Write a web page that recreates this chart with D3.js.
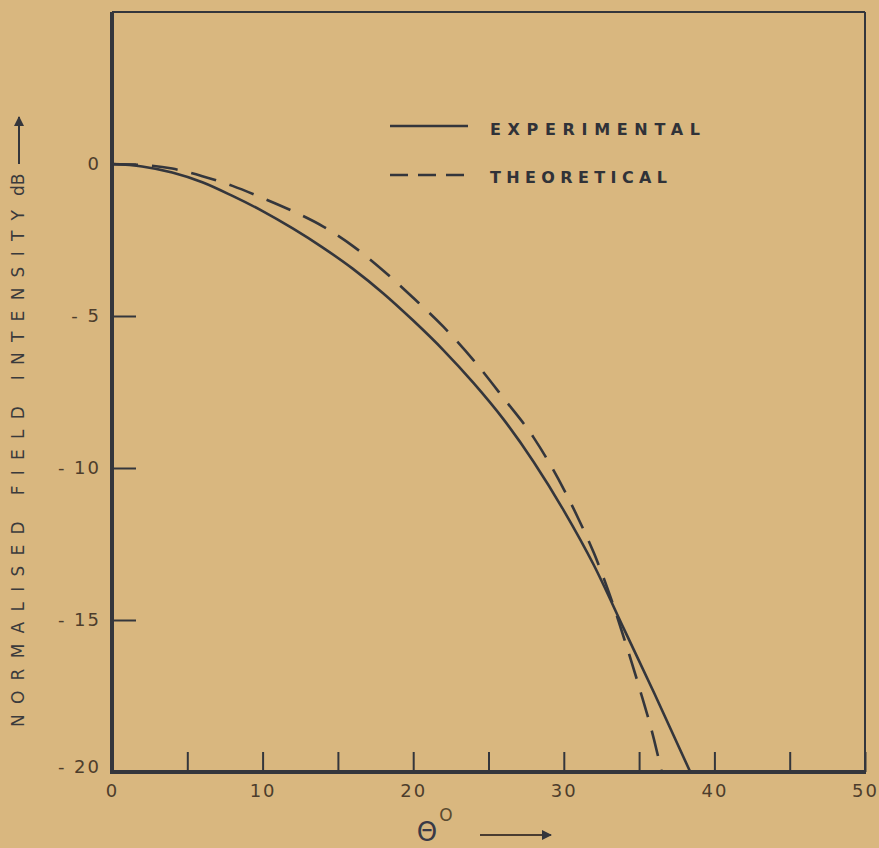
<!DOCTYPE html>
<meta charset="utf-8">
<style>
  body { margin: 0; background: #d9b77f; }
  svg { display: block; }
  .axis .domain { display: none; }
  .axis .tick line { stroke: #34363c; stroke-width: 2; }
  .axis .tick text {
    font-family: "DejaVu Sans", sans-serif;
    font-size: 18px;
    fill: #4d3d2c;
    letter-spacing: 2px;
  }
  .legend text {
    font-family: "DejaVu Sans", sans-serif;
    font-size: 16px;
    font-weight: bold;
    fill: #303238;
  }
  .curve { fill: none; stroke: #34363c; stroke-width: 2.6; }
</style>
<body>
<div id="chart"></div>

<script src="https://d3js.org/d3.v7.min.js"></script>
<script>

// measured curves (theta in degrees, field in dB)
const expTheta = [0, 2, 4, 6, 8, 10, 12, 14, 16, 18, 20, 22, 24, 26, 28, 30, 32, 34, 36, 38.4];
const expDb    = [0, -0.08, -0.28, -0.6, -1.05, -1.55, -2.12, -2.75, -3.45, -4.25, -5.15, -6.12, -7.2, -8.4, -9.8, -11.4, -13.2, -15.3, -17.4, -20];

const theoTheta = [0, 2, 4, 6, 8, 10, 12, 14, 16, 18, 20, 22, 24, 26, 28, 29, 30, 31, 32, 33, 34, 35, 36, 36.5];
const theoDb    = [0, -0.03, -0.15, -0.4, -0.72, -1.12, -1.55, -2.05, -2.7, -3.5, -4.4, -5.35, -6.45, -7.7, -9.0, -9.8, -10.7, -11.7, -12.8, -14.1, -15.6, -17.2, -18.95, -20];

const xTicks = [0, 5, 10, 15, 20, 25, 30, 35, 40, 45, 50];
const xTickLabels = ["0", "", "10", "", "20", "", "30", "", "40", "", "50"];
const yTicks = [0, -5, -10, -15, -20];
const yTickLabels = ["0", "- 5", "- 10", "- 15", "- 20"];
const seriesNames = ["EXPERIMENTAL", "THEORETICAL"];

const width = 879, height = 848;
const ink = "#34363c";

const svg = d3.select("#chart").append("svg")
    .attr("width", width)
    .attr("height", height);

svg.append("rect").attr("width", width).attr("height", height).attr("fill", "#d9b77f");

const x = d3.scaleLinear().domain([0, 50]).range([112, 865]);
const y = d3.scaleLinear().domain([-20, 5]).range([772, 12]);

// frame: heavy left/bottom axes, thin top/right
svg.append("line")
    .attr("x1", x(0)).attr("x2", x(50)).attr("y1", y(5)).attr("y2", y(5))
    .attr("stroke", ink).attr("stroke-width", 2);
svg.append("line")
    .attr("x1", x(50)).attr("x2", x(50)).attr("y1", y(5)).attr("y2", y(-20))
    .attr("stroke", ink).attr("stroke-width", 2);

// x axis, ticks pointing up
svg.append("g")
    .attr("class", "axis")
    .attr("transform", `translate(0,${y(-20)})`)
    .call(d3.axisBottom(x)
        .tickValues(xTicks)
        .tickSize(-20)
        .tickPadding(12)
        .tickFormat((d, i) => xTickLabels[i]));

// y axis, ticks pointing right
const yAxis = svg.append("g")
    .attr("class", "axis")
    .attr("transform", `translate(${x(0)},0)`)
    .call(d3.axisLeft(y)
        .tickValues(yTicks)
        .tickSize(-24)
        .tickPadding(11)
        .tickFormat((d, i) => yTickLabels[i]));
// bottom label sits a little above the corner
yAxis.selectAll(".tick text").filter(d => d === -20).attr("dy", "0.0em");

svg.append("line")
    .attr("x1", x(0)).attr("x2", x(0)).attr("y1", y(5)).attr("y2", y(-20) + 2)
    .attr("stroke", ink).attr("stroke-width", 4);
svg.append("line")
    .attr("x1", x(0) - 2).attr("x2", x(50) + 1).attr("y1", y(-20)).attr("y2", y(-20))
    .attr("stroke", ink).attr("stroke-width", 4);

// curves
const line = d3.line()
    .x(d => x(d[0]))
    .y(d => y(d[1]))
    .curve(d3.curveMonotoneX);

svg.append("path")
    .datum(expTheta.map((t, i) => [t, expDb[i]]))
    .attr("class", "curve")
    .attr("d", line);

svg.append("path")
    .datum(theoTheta.map((t, i) => [t, theoDb[i]]))
    .attr("class", "curve")
    .attr("stroke-width", 3)
    .attr("stroke-dasharray", "26,14")
    .attr("d", line);

// legend
const legend = svg.append("g").attr("class", "legend");
const legendRows = [
  { name: seriesNames[0], dash: null, ly: 126, ty: 135, len: 210 },
  { name: seriesNames[1], dash: "18,10", ly: 175, ty: 183, len: 177 }
];
legendRows.forEach(r => {
  legend.append("line")
      .attr("x1", 390).attr("x2", 468).attr("y1", r.ly).attr("y2", r.ly)
      .attr("stroke", ink).attr("stroke-width", 2.6)
      .attr("stroke-dasharray", r.dash);
  legend.append("text")
      .attr("x", 490).attr("y", r.ty)
      .attr("textLength", r.len)
      .attr("lengthAdjust", "spacing")
      .text(r.name);
});

// y title
svg.append("text")
    .attr("transform", "translate(24,727) rotate(-90)")
    .attr("font-family", "DejaVu Sans, sans-serif")
    .attr("font-size", 17)
    .attr("fill", "#3a3a3c")
    .attr("textLength", 517)
    .attr("lengthAdjust", "spacing")
    .text("NORMALISED  FIELD  INTENSITY");
svg.append("text")
    .attr("transform", "translate(24,196) rotate(-90)")
    .attr("font-family", "DejaVu Sans, sans-serif")
    .attr("font-size", 17)
    .attr("fill", "#3a3a3c")
    .text("dB");

svg.append("defs").append("marker")
    .attr("id", "arrow")
    .attr("viewBox", "0 0 10 10")
    .attr("refX", 9).attr("refY", 5)
    .attr("markerWidth", 7).attr("markerHeight", 5)
    .attr("orient", "auto")
  .append("path")
    .attr("d", "M0,0 L10,5 L0,10 z")
    .attr("fill", ink);

svg.append("line")
    .attr("x1", 19).attr("x2", 19).attr("y1", 164).attr("y2", 117)
    .attr("stroke", ink).attr("stroke-width", 2)
    .attr("marker-end", "url(#arrow)");

// x title
svg.append("text")
    .attr("x", 427).attr("y", 841)
    .attr("text-anchor", "middle")
    .attr("font-family", "DejaVu Sans, sans-serif")
    .attr("font-size", 26)
    .attr("fill", "#3a3a46")
    .text("Θ");
svg.append("text")
    .attr("x", 446).attr("y", 821)
    .attr("text-anchor", "middle")
    .attr("font-family", "DejaVu Sans, sans-serif")
    .attr("font-size", 17)
    .attr("fill", "#5a4a30")
    .text("O");
svg.append("line")
    .attr("x1", 480).attr("x2", 551).attr("y1", 835).attr("y2", 835)
    .attr("stroke", "#4a3c30").attr("stroke-width", 2)
    .attr("marker-end", "url(#arrow)");

</script>
</body>
</html>
